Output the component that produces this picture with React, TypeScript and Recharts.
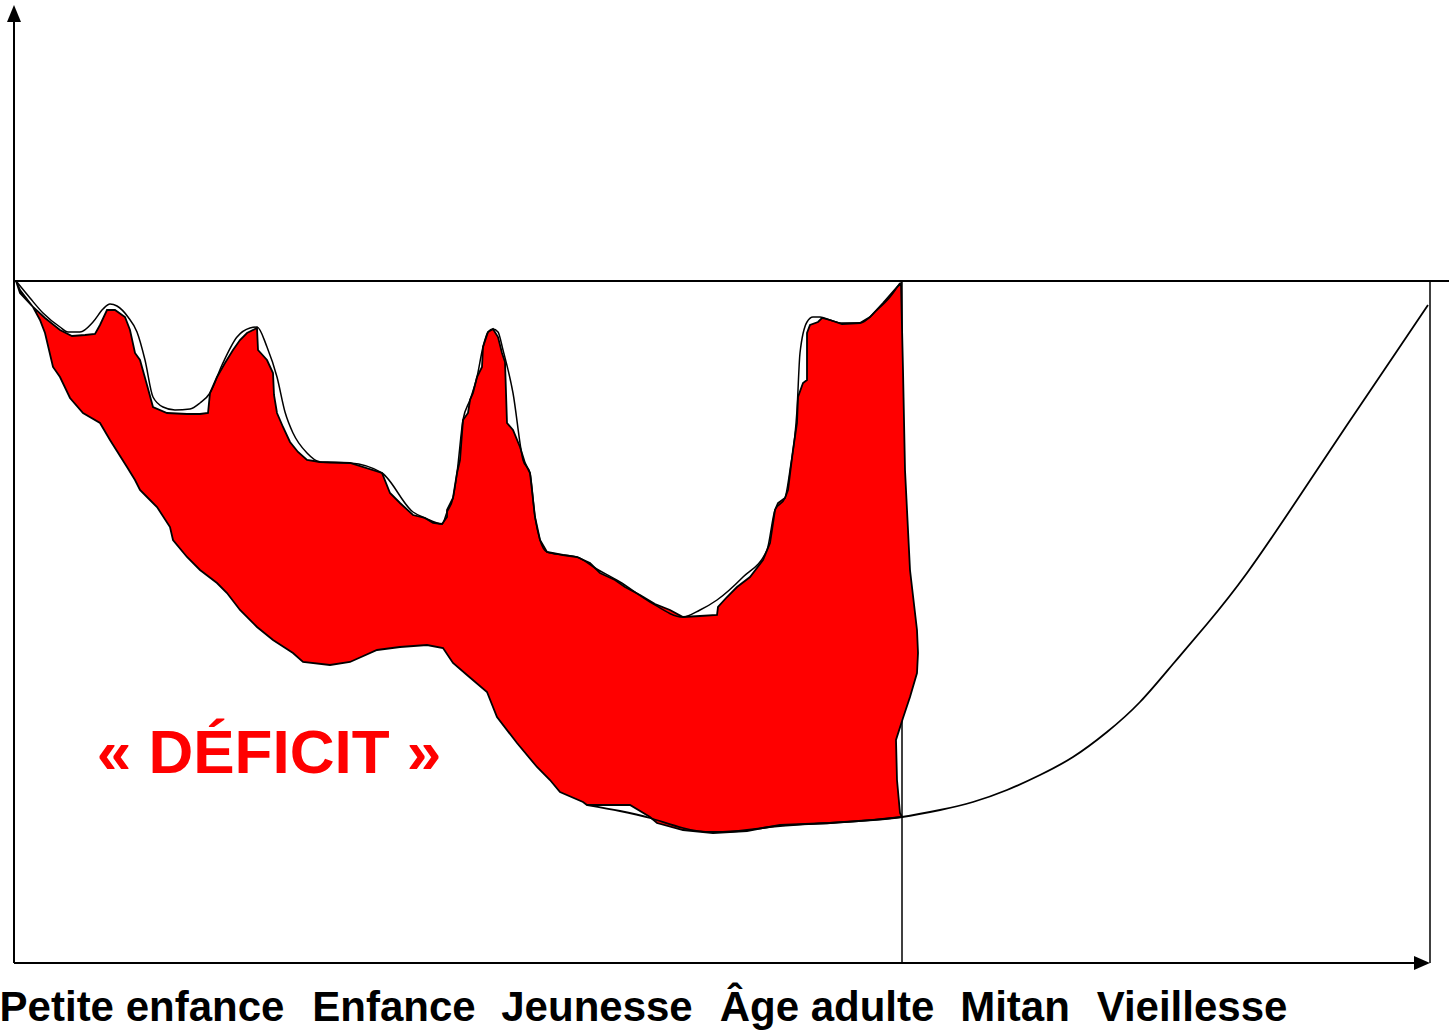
import {
  ComposedChart,
  Area,
  Line,
  XAxis,
  YAxis,
  ReferenceLine,
  ReferenceDot,
} from "recharts";

// deficit outline, read clockwise: top edge, right edge, bottom edge (x = age scale, y = level vs. the norm line)
const deficitTop: [number, number][] = [
  [2, 0], [6, -9], [19, -26], [31, -37], [46, -49], [58, -55], [71, -54], [81, -53],
  [86, -44], [93, -29], [101, -29], [111, -36], [116, -49], [121, -72], [126, -79],
  [133, -104], [139, -126], [153, -132], [173, -133], [186, -133], [194, -132],
  [196, -112], [203, -96], [211, -82], [219, -69], [226, -59], [233, -52], [243, -47],
  [244, -69], [253, -79], [259, -92], [260, -114], [263, -132], [269, -146], [276, -161],
  [284, -171], [293, -179], [306, -181], [336, -182], [368, -192], [376, -212],
  [386, -222], [399, -234], [411, -237], [419, -242], [428, -243], [433, -236],
  [433, -229], [439, -217], [443, -192], [446, -179], [449, -139], [454, -132],
  [456, -119], [459, -112], [463, -96], [468, -86], [469, -66], [474, -51], [479, -48],
  [484, -56], [488, -72], [491, -81], [493, -142], [499, -149], [506, -166], [511, -182],
  [516, -192], [521, -236], [526, -259], [533, -271], [549, -274], [563, -276],
  [576, -282], [586, -292], [601, -299], [611, -306], [626, -314], [641, -323],
  [656, -329], [669, -336], [686, -335], [703, -334], [704, -326], [713, -316],
  [723, -306], [736, -296], [749, -279], [756, -262], [761, -229], [764, -222],
  [771, -217], [774, -209], [779, -169], [783, -142], [784, -116], [789, -102],
  [793, -99], [793, -52], [796, -44], [804, -41], [808, -37], [816, -39], [828, -43],
  [846, -42], [856, -36], [869, -22], [883, -6], [887, -2],
];

const deficitRightEdge: [number, number][] = [
  [889, -89], [891, -189], [896, -289], [903, -349], [904, -372], [903, -392],
  [896, -416], [889, -437], [882, -459], [883, -499], [886, -532], [888, -536],
];

const deficitBottom: [number, number][] = [
  [859, -539], [816, -542], [766, -544], [733, -550], [699, -552], [669, -549],
  [643, -542], [636, -536], [616, -524], [573, -524], [569, -521], [546, -511],
  [536, -499], [523, -486], [503, -462], [483, -436], [473, -411], [453, -394],
  [439, -382], [429, -367], [413, -364], [386, -366], [363, -369], [336, -381],
  [316, -384], [289, -381], [279, -372], [259, -359], [243, -346], [226, -329],
  [213, -312], [203, -302], [186, -289], [173, -276], [159, -259], [156, -246],
  [143, -226], [133, -216], [126, -209], [121, -199], [113, -186], [96, -159],
  [86, -142], [69, -132], [56, -117], [46, -96], [39, -86], [31, -52], [26, -39],
  [19, -26], [6, -12], [2, 0],
];

// smooth curve drawn over the top of the deficit
const upperCurve: [number, number][] = [
  [2, 0], [16, -17], [29, -32], [46, -46], [54, -51], [66, -51], [79, -41], [89, -28],
  [96, -23], [103, -25], [114, -36], [123, -51], [131, -79], [139, -116], [149, -126],
  [161, -129], [176, -128], [186, -122], [196, -112], [208, -84], [223, -56], [236, -47],
  [243, -46], [253, -66], [263, -96], [271, -131], [279, -152], [293, -172], [306, -181],
  [336, -182], [368, -192], [399, -231], [411, -237], [428, -243], [433, -231],
  [439, -217], [443, -192], [449, -139], [456, -119], [463, -96], [469, -66], [474, -51],
  [479, -48], [484, -51], [489, -69], [499, -112], [509, -179], [516, -192], [521, -236],
  [526, -259], [533, -271], [549, -274], [563, -276], [581, -287], [606, -301],
  [636, -321], [669, -336], [686, -329], [703, -319], [729, -296], [753, -269],
  [761, -229], [771, -217], [776, -189], [783, -129], [786, -72], [793, -41], [799, -36],
  [806, -36], [816, -39], [828, -42], [846, -42], [863, -29], [876, -16], [886, -2],
];

// the life curve from youth into old age
const lifeCurve: [number, number][] = [
  [573, -524], [606, -530], [636, -537], [669, -547], [699, -551], [733, -549],
  [766, -545], [816, -542], [859, -539], [888, -536], [926, -529], [959, -521],
  [993, -509], [1026, -494], [1059, -476], [1093, -451], [1126, -421], [1159, -383],
  [1193, -343], [1233, -292], [1283, -219], [1333, -144], [1383, -70], [1414, -24],
];

const stageTicks = [128, 380, 583, 813, 1001, 1178];
const stageLabels = ["Petite enfance", "Enfance", "Jeunesse", "Âge adulte", "Mitan", "Vieillesse"];

const adultStart = 888;
const axisEnd = 1416;

const font = "'Liberation Sans', Arial, sans-serif";

const toPoints = (pairs: [number, number][]) => pairs.map(([x, y]) => ({ x, y }));

const deficitShape = toPoints([...deficitTop, ...deficitRightEdge, ...deficitBottom]);
const upperData = toPoints(upperCurve);
const lifeData = toPoints(lifeCurve);

const StageTick = (props: any) => {
  const { x, y, payload } = props;
  const i = stageTicks.indexOf(payload.value);
  return (
    <text
      x={x}
      y={y + 58}
      textAnchor="middle"
      fontSize={42}
      fontWeight="bold"
      fontFamily={font}
      fill="#000"
    >
      {stageLabels[i]}
    </text>
  );
};

export default function App() {
  return (
    <div style={{ position: "absolute", left: 0, top: 0, background: "#fff" }}>
      <ComposedChart
        width={1449}
        height={1032}
        margin={{ top: 5, right: 0, bottom: 0, left: 14 }}
      >
        <XAxis
          dataKey="x"
          type="number"
          domain={[0, 1435]}
          ticks={stageTicks}
          interval={0}
          height={69}
          axisLine={false}
          tickLine={false}
          tickSize={0}
          tickMargin={0}
          tick={<StageTick />}
        />
        <YAxis type="number" domain={[-682, 276]} hide />

        {/* sits behind the red area */}
        <ReferenceLine
          segment={[{ x: adultStart, y: 0 }, { x: adultStart, y: -682 }]}
          stroke="#000"
          strokeWidth={1.5}
          zIndex={50}
        />
        <ReferenceLine
          segment={[{ x: axisEnd, y: 0 }, { x: axisEnd, y: -682 }]}
          stroke="#000"
          strokeWidth={1.5}
        />
        <ReferenceLine y={0} stroke="#000" strokeWidth={2} />
        <ReferenceLine
          segment={[{ x: 0, y: -682 }, { x: 0, y: 262 }]}
          stroke="#000"
          strokeWidth={2}
        />
        <ReferenceLine
          segment={[{ x: 0, y: -682 }, { x: axisEnd - 12, y: -682 }]}
          stroke="#000"
          strokeWidth={2}
        />

        <Area
          data={deficitShape}
          dataKey="y"
          type="linear"
          baseValue={0}
          fill="#ff0000"
          fillOpacity={1}
          stroke="#000"
          strokeWidth={1.8}
          isAnimationActive={false}
          activeDot={false}
        />
        <Line
          data={upperData}
          dataKey="y"
          type="monotone"
          stroke="#000"
          strokeWidth={1.5}
          dot={false}
          activeDot={false}
          isAnimationActive={false}
        />
        <Line
          data={lifeData}
          dataKey="y"
          type="natural"
          stroke="#000"
          strokeWidth={1.8}
          dot={false}
          activeDot={false}
          isAnimationActive={false}
        />

        <ReferenceDot
          x={0}
          y={276}
          r={0}
          shape={(p: any) => (
            <path d={`M${p.cx},${p.cy}L${p.cx - 7},${p.cy + 17}L${p.cx + 7},${p.cy + 17}Z`} fill="#000" />
          )}
        />
        <ReferenceDot
          x={axisEnd}
          y={-682}
          r={0}
          shape={(p: any) => (
            <path d={`M${p.cx},${p.cy}L${p.cx - 16},${p.cy - 7}L${p.cx - 16},${p.cy + 7}Z`} fill="#000" />
          )}
        />
        <ReferenceDot
          x={255}
          y={-492}
          r={0}
          shape={(p: any) => (
            <text
              x={p.cx}
              y={p.cy}
              textAnchor="middle"
              fontSize={62}
              fontWeight="bold"
              fontFamily={font}
              fill="#ff0000"
            >
              « DÉFICIT »
            </text>
          )}
        />
      </ComposedChart>
    </div>
  );
}
